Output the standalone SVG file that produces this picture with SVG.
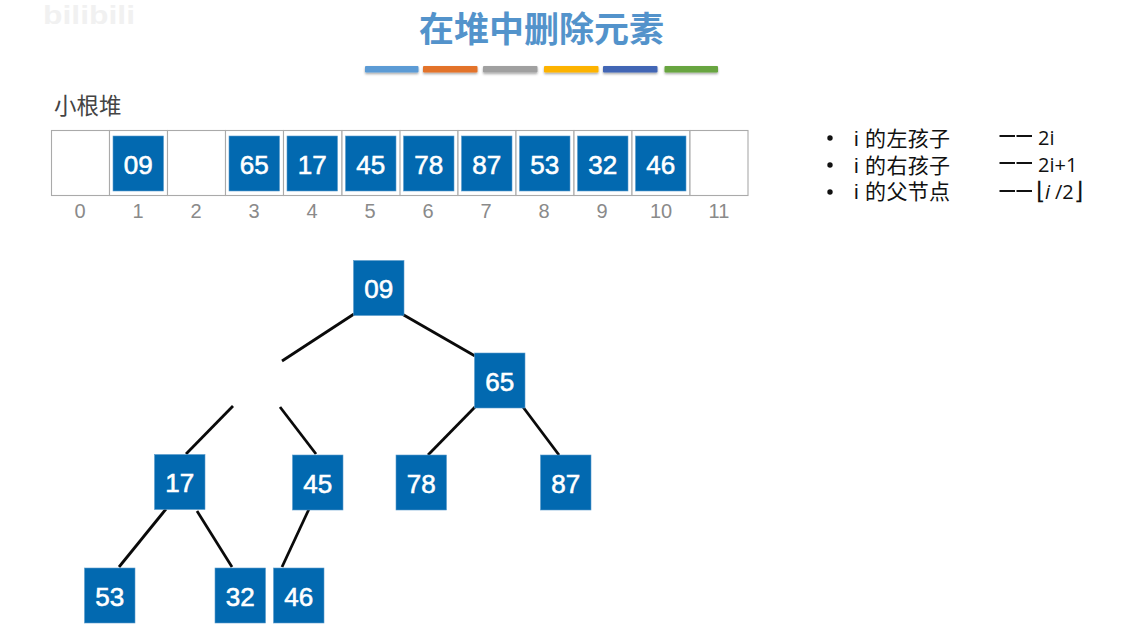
<svg xmlns="http://www.w3.org/2000/svg" width="1121" height="637" viewBox="0 0 1121 637">
<style>
text{font-family:"Liberation Sans","Noto Sans CJK SC",sans-serif}
.b{fill:#0269b0;stroke:#5a9ccc;stroke-width:.6}
.n{fill:#fff;stroke:#fff;stroke-width:.6;font-size:26px;text-anchor:middle}
.c{fill:#fff;stroke:#aaa;stroke-width:1.1}
.i{fill:#8a8a8a;font-size:20px;text-anchor:middle}
.e{stroke:#0a0a0a;stroke-width:2.8;fill:none;stroke-linecap:butt}
.d{stroke-width:0;filter:url(#s)}
.l{fill:#111;font-size:21px;letter-spacing:.3px}
.m{fill:#111;font-size:20px;font-family:"Open Sans",sans-serif}
.h{stroke:#111;stroke-width:2;fill:none}
</style>
<defs>
<filter id="s" x="-10%" y="-60%" width="120%" height="240%"><feDropShadow dx="0" dy="1.5" stdDeviation="1.2" flood-color="#000" flood-opacity=".35"/></filter>
</defs>
<rect width="1121" height="637" fill="#fff"/>
<text id="watermark" x="43" y="24" font-size="26" font-weight="700" fill="#f1f1f1" textLength="92" lengthAdjust="spacingAndGlyphs">bilibili</text>
<text id="title" x="541.500" y="42" font-size="35" font-weight="700" fill="#5393cb" text-anchor="middle" style="font-family:'Noto Sans CJK SC',sans-serif">在堆中删除元素</text>
<g id="title-bars">
<rect class="d" x="365" y="66" width="53.500" height="6.500" rx="1" fill="#5b9bd5"/>
<rect class="d" x="423" y="66" width="54.500" height="6.500" rx="1" fill="#e37329"/>
<rect class="d" x="483" y="66" width="54.500" height="6.500" rx="1" fill="#a0a0a0"/>
<rect class="d" x="544" y="66" width="54.500" height="6.500" rx="1" fill="#fdb302"/>
<rect class="d" x="603" y="66" width="54.500" height="6.500" rx="1" fill="#4366b5"/>
<rect class="d" x="664.500" y="66" width="53.500" height="6.500" rx="1" fill="#67a53f"/>
</g>
<text id="heap-label" x="54" y="114" font-size="22.500" fill="#444" style="font-family:'Noto Sans CJK SC',sans-serif">小根堆</text>
<g id="array">
<rect class="c" x="51.500" y="130.500" width="58" height="65"/><rect class="c" x="109.500" y="130.500" width="58" height="65"/><rect class="c" x="167.500" y="130.500" width="58" height="65"/><rect class="c" x="225.500" y="130.500" width="58" height="65"/><rect class="c" x="283.500" y="130.500" width="58.500" height="65"/><rect class="c" x="342" y="130.500" width="58.500" height="65"/><rect class="c" x="400" y="130.500" width="58" height="65"/><rect class="c" x="458" y="130.500" width="58" height="65"/><rect class="c" x="516" y="130.500" width="58" height="65"/><rect class="c" x="574" y="130.500" width="58" height="65"/><rect class="c" x="632" y="130.500" width="58" height="65"/><rect class="c" x="690" y="130.500" width="58" height="65"/>
<g id="a1"><rect class="b" x="113" y="136" width="50.500" height="55"/><text class="n" x="138.200" y="173.500">09</text></g>
<g id="a3"><rect class="b" x="229" y="136" width="50.500" height="55"/><text class="n" x="254.200" y="173.500">65</text></g>
<g id="a4"><rect class="b" x="287" y="136" width="50.500" height="55"/><text class="n" x="312.200" y="173.500">17</text></g>
<g id="a5"><rect class="b" x="345.500" y="136" width="50.500" height="55"/><text class="n" x="370.700" y="173.500">45</text></g>
<g id="a6"><rect class="b" x="403.500" y="136" width="50.500" height="55"/><text class="n" x="428.700" y="173.500">78</text></g>
<g id="a7"><rect class="b" x="461.500" y="136" width="50.500" height="55"/><text class="n" x="486.700" y="173.500">87</text></g>
<g id="a8"><rect class="b" x="519.500" y="136" width="50.500" height="55"/><text class="n" x="544.700" y="173.500">53</text></g>
<g id="a9"><rect class="b" x="577.500" y="136" width="50.500" height="55"/><text class="n" x="602.700" y="173.500">32</text></g>
<g id="a10"><rect class="b" x="635.500" y="136" width="50.500" height="55"/><text class="n" x="660.700" y="173.500">46</text></g>
<text class="i" x="80" y="218">0</text><text class="i" x="138" y="218">1</text><text class="i" x="196" y="218">2</text><text class="i" x="254" y="218">3</text><text class="i" x="312" y="218">4</text><text class="i" x="370" y="218">5</text><text class="i" x="428" y="218">6</text><text class="i" x="486" y="218">7</text><text class="i" x="544" y="218">8</text><text class="i" x="602" y="218">9</text><text class="i" x="661" y="218">10</text><text class="i" x="719" y="218">11</text>
</g>
<g id="notes">
<circle cx="830" cy="138" r="2.700" fill="#111"/><circle cx="830" cy="165" r="2.700" fill="#111"/><circle cx="830" cy="192" r="2.700" fill="#111"/>
<text class="l" x="854" y="146">i 的左孩子</text>
<text class="l" x="854" y="172.500">i 的右孩子</text>
<text class="l" x="854" y="199">i 的父节点</text>
<path class="h" d="M999.500 136h15.500M1016.500 136h15.500M999.500 163h15.500M1016.500 163h15.500M999.500 191h15.500M1016.500 191h15.500"/>
<text class="m" x="1038" y="145">2i</text>
<text class="m" x="1038" y="172">2i+1</text>
<text class="m" x="1036" y="199" style="font-size:24px">⌊</text>
<text class="m" x="1045" y="199" font-style="italic">i</text>
<text class="m" x="1055" y="199">/2</text>
<text class="m" x="1074" y="199" style="font-size:24px">⌋</text>
</g>
<g id="connectors">
<path class="e" d="M354 314L282 361"/><path class="e" d="M402 314L475 356"/>
<path class="e" d="M475 407L428 455"/><path class="e" d="M523 407L559 455"/>
<path class="e" d="M233 406L186 454"/><path class="e" d="M280 407L316 454"/>
<path class="e" d="M166 509L119 567"/><path class="e" d="M197 511L232 567"/><path class="e" d="M309 509L282 567"/>
</g>
<g id="n09"><rect class="b" x="353.500" y="260.500" width="50.500" height="55"/><text class="n" x="378.700" y="298">09</text></g>
<g id="n65"><rect class="b" x="474.500" y="353" width="50.500" height="55"/><text class="n" x="499.700" y="390.500">65</text></g>
<g id="n17"><rect class="b" x="154.500" y="454.500" width="50.500" height="55"/><text class="n" x="179.700" y="492">17</text></g>
<g id="n45"><rect class="b" x="292.500" y="455" width="50.500" height="55"/><text class="n" x="317.700" y="492.500">45</text></g>
<g id="n78"><rect class="b" x="396" y="455" width="50.500" height="55"/><text class="n" x="421.200" y="492.500">78</text></g>
<g id="n87"><rect class="b" x="540.500" y="455" width="50.500" height="55"/><text class="n" x="565.700" y="492.500">87</text></g>
<g id="n53"><rect class="b" x="84.500" y="568" width="50.500" height="55"/><text class="n" x="109.700" y="605.500">53</text></g>
<g id="n32"><rect class="b" x="215" y="568" width="50.500" height="55"/><text class="n" x="240.200" y="605.500">32</text></g>
<g id="n46"><rect class="b" x="273.500" y="568" width="50.500" height="55"/><text class="n" x="298.700" y="605.500">46</text></g>
</svg>
